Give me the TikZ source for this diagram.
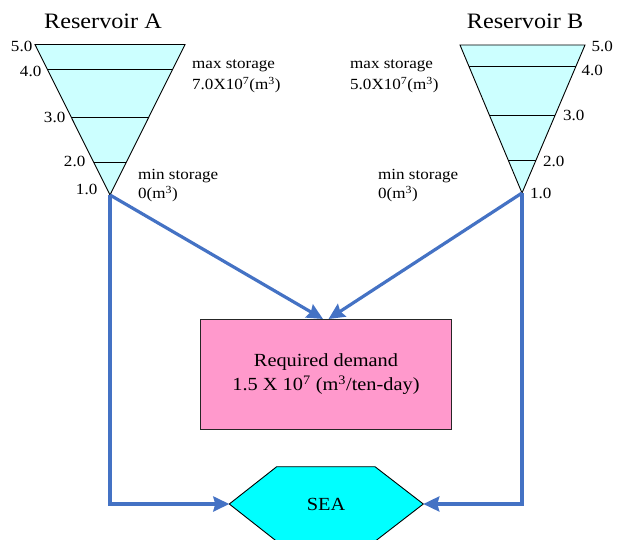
\documentclass[tikz,border=0pt]{standalone}
\usepackage{fontspec}
\setmainfont{Liberation Serif}
\usetikzlibrary{arrows.meta,calc}

\definecolor{flowblue}{RGB}{68,114,196}
\definecolor{waterfill}{RGB}{204,255,255}
\definecolor{demandpink}{RGB}{255,153,204}
\definecolor{seacyan}{RGB}{0,255,255}

% horizontally widened text
\newcommand{\hs}[1]{\scalebox{1.1}[1]{#1}}

\begin{document}
\begin{tikzpicture}[x=1pt,y=-1pt,
  flow/.style={draw=flowblue, line width=3.2pt,
    -{Stealth[length=16pt,width=15pt,inset=2pt]}},
  tank/.style={draw=black, line width=0.9pt, fill=waterfill, line join=miter},
  level/.style={draw=black, line width=0.9pt},
  tag/.style={font=\fontsize{15.5}{17}\selectfont, inner sep=0pt},
  title/.style={font=\fontsize{22}{24}\selectfont, inner sep=0pt},
  bigtext/.style={font=\fontsize{18.5}{25}\selectfont},
]
\useasboundingbox (0,0) rectangle (618,540);

% ---------- Reservoir A ----------
\coordinate (Atl) at (35,44.5);
\coordinate (Atr) at (185,44.5);
\coordinate (Aapex) at (110,195);
\path[tank] (Atl) -- (Atr) -- (Aapex) -- cycle;
\foreach \f in {0.837,0.518,0.219}
  \draw[level] ($(Aapex)!\f!(Atl)$) -- ($(Aapex)!\f!(Atr)$);
\node[title, anchor=base] (Atitle) at (103,28.5) {\hs{Reservoir A}};
\node[tag, anchor=base east] (A5) at (32.5,52) {\hs{5.0}};
\node[tag, anchor=base east] (A4) at (41.5,77) {\hs{4.0}};
\node[tag, anchor=base east] (A3) at (65.5,123) {\hs{3.0}};
\node[tag, anchor=base east] (A2) at (85.5,166.5) {\hs{2.0}};
\node[tag, anchor=base east] (A1) at (97.5,194) {\hs{1.0}};
\node[tag, anchor=base west] (Amax1) at (192,69) {\hs{max storage}};
\node[tag, anchor=base west] (Amax2) at (192,90) {\hs{7.0X10\textsuperscript{7}(m\textsuperscript{3})}};
\node[tag, anchor=base west] (Amin1) at (138,179.5) {\hs{min storage}};
\node[tag, anchor=base west] (Amin2) at (138,199) {\hs{0(m\textsuperscript{3})}};

% ---------- Reservoir B ----------
\coordinate (Btl) at (460,45);
\coordinate (Btr) at (585,45);
\coordinate (Bapex) at (522,193);
\path[tank] (Btl) -- (Btr) -- (Bapex) -- cycle;
\foreach \f in {0.853,0.522,0.223}
  \draw[level] ($(Bapex)!\f!(Btl)$) -- ($(Bapex)!\f!(Btr)$);
\node[title, anchor=base] (Btitle) at (525,28.5) {\hs{Reservoir B}};
\node[tag, anchor=base west] (B5) at (591.5,52) {\hs{5.0}};
\node[tag, anchor=base west] (B4) at (581.5,75.5) {\hs{4.0}};
\node[tag, anchor=base west] (B3) at (563,120.5) {\hs{3.0}};
\node[tag, anchor=base west] (B2) at (543,167) {\hs{2.0}};
\node[tag, anchor=base west] (B1) at (530,198) {\hs{1.0}};
\node[tag, anchor=base west] (Bmax1) at (350,68.5) {\hs{max storage}};
\node[tag, anchor=base west] (Bmax2) at (350,90) {\hs{5.0X10\textsuperscript{7}(m\textsuperscript{3})}};
\node[tag, anchor=base west] (Bmin1) at (378,180) {\hs{min storage}};
\node[tag, anchor=base west] (Bmin2) at (378,199) {\hs{0(m\textsuperscript{3})}};

% ---------- Demand ----------
\node[draw=black!85, line width=1pt, fill=demandpink, minimum width=251pt,
      minimum height=110pt, inner sep=0pt, align=center, bigtext]
  (demand) at (326,374)
  {\hs{Required demand}\\[-1pt]\hs{1.5 X 10\textsuperscript{7} (m\textsuperscript{3}/ten-day)}};

% ---------- Sea ----------
\coordinate (seaL) at (229.3,504);
\coordinate (seaR) at (423.3,504);
\draw[black, line width=0.9pt, fill=seacyan, line join=miter]
  (276.7,466.7) -- (375,466.7) -- (seaR) -- (375,541.3)
  -- (276.7,541.3) -- (seaL) -- cycle;
\node[bigtext] (sea) at (326,504) {\hs{SEA}};

% ---------- Flows ----------
\coordinate (dinL) at (323,319);
\coordinate (dinR) at (328.5,319);
\draw[flow] (Aapex) -- (dinL);
\draw[flow] (Bapex) -- (dinR);
\draw[flow] (Aapex) |- (seaL);
\draw[flow] (Bapex) |- (seaR);
\end{tikzpicture}
\end{document}
